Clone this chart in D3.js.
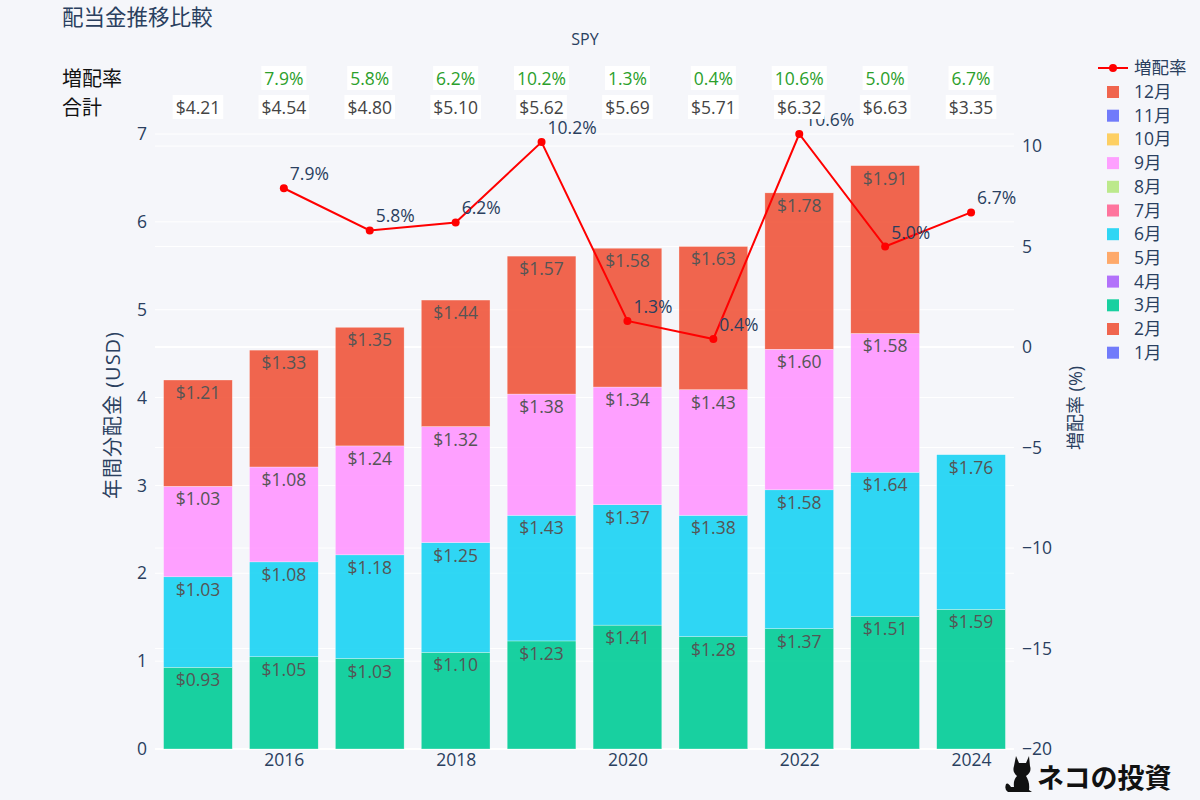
<!DOCTYPE html>
<html><head><meta charset="utf-8">
<script src="https://cdn.jsdelivr.net/npm/d3@7"></script>
<style>
html,body{margin:0;padding:0;background:#f5f6fa;}
svg{display:block;font-family:"Open Sans","Noto Sans CJK JP",sans-serif;}
</style></head>
<body><svg id="c" width="1200" height="800"></svg>
<script>
const years = [2015,2016,2017,2018,2019,2020,2021,2022,2023,2024];
const months = ["1月","2月","3月","4月","5月","6月","7月","8月","9月","10月","11月","12月"];
const monthColors = ["#636efa","#EF553B","#00cc96","#ab63fa","#FFA15A","#19d3f3","#FF6692","#B6E880","#FF97FF","#FECB52","#636efa","#EF553B"];
const mar = [0.93,1.05,1.03,1.10,1.23,1.41,1.28,1.37,1.51,1.59];
const jun = [1.03,1.08,1.18,1.25,1.43,1.37,1.38,1.58,1.64,1.76];
const sep = [1.03,1.08,1.24,1.32,1.38,1.34,1.43,1.60,1.58,0];
const dec = [1.21,1.33,1.35,1.44,1.57,1.58,1.63,1.78,1.91,0];
const totals = ["$4.21","$4.54","$4.80","$5.10","$5.62","$5.69","$5.71","$6.32","$6.63","$3.35"];
const growthYears = [2016,2017,2018,2019,2020,2021,2022,2023,2024];
const growth = [7.9,5.8,6.2,10.2,1.3,0.4,10.6,5.0,6.7];
const leftTicks = [0,1,2,3,4,5,6,7];
const rightTicks = [10,5,0,-5,-10,-15,-20];
const xTicks = [2016,2018,2020,2022,2024];

const svg = d3.select("#c");
const L=155,R=1014,T=134,B=749;
const font = "'Open Sans','Noto Sans CJK JP',sans-serif";
const txt = "#2a3f5f";
const FS = 17.5;
const x = d3.scaleLinear().domain([2014.5,2024.5]).range([L,R]);
const y = d3.scaleLinear().domain([0,7]).range([B,T]);
const y2 = d3.scaleLinear().domain([-20,10.6]).range([B,T]);
const step = x(2016)-x(2015), bw = step*0.8;

// gridlines
const g = svg.append("g");
g.selectAll(".gl").data(leftTicks).join("line")
 .attr("x1",L).attr("x2",R).attr("y1",d=>y(d)).attr("y2",d=>y(d))
 .attr("stroke","#fff").attr("stroke-width",d=>d===0?2:1);
g.selectAll(".gr").data(rightTicks).join("line")
 .attr("x1",L).attr("x2",R).attr("y1",d=>y2(d)).attr("y2",d=>y2(d))
 .attr("stroke","#fff").attr("stroke-width",d=>d===0?2:1);

// stacked bars
const rows = years.map((yr,i)=>({year:yr,"3月":mar[i],"6月":jun[i],"9月":sep[i],"12月":dec[i]}));
const keys = ["3月","6月","9月","12月"];
const stack = d3.stack().keys(keys)(rows);
stack.forEach(layer=>{
  const col = monthColors[months.indexOf(layer.key)];
  const lg = svg.append("g");
  layer.forEach(d=>{
    const v = d[1]-d[0];
    if(v<=0) return;
    lg.append("rect").attr("x",x(d.data.year)-bw/2).attr("width",bw)
      .attr("y",y(d[1])).attr("height",y(d[0])-y(d[1]))
      .attr("fill",col).attr("fill-opacity",0.9)
      .attr("stroke","#fff").attr("stroke-opacity",0.6).attr("stroke-width",0.5);
    lg.append("text").attr("x",x(d.data.year)).attr("y",y(d[1])+19)
      .attr("text-anchor","middle").attr("font-size",FS).attr("fill","#555")
      .attr("font-family",font).text("$"+v.toFixed(2));
  });
});

// growth line
const line = d3.line().x((d,i)=>x(growthYears[i])).y(d=>y2(d));
svg.append("path").datum(growth).attr("d",line).attr("fill","none")
 .attr("stroke","#ff0000").attr("stroke-width",2);
svg.selectAll(".pt").data(growth).join("circle")
 .attr("cx",(d,i)=>x(growthYears[i])).attr("cy",d=>y2(d)).attr("r",4).attr("fill","#ff0000");
svg.selectAll(".pl").data(growth).join("text")
 .attr("x",(d,i)=>x(growthYears[i])+6).attr("y",d=>y2(d)-8)
 .attr("font-size",FS).attr("fill",txt).attr("font-family",font)
 .text(d=>d.toFixed(1)+"%");

// axes
const ax = d3.axisLeft(y).tickValues(leftTicks).tickSize(0).tickPadding(8).tickFormat(d3.format("d"));
const ga = svg.append("g").attr("transform",`translate(${L},0)`).call(ax);
const ax2 = d3.axisRight(y2).tickValues(rightTicks).tickSize(0).tickPadding(8).tickFormat(d=>d<0?"\u2212"+Math.abs(d):d);
const gb = svg.append("g").attr("transform",`translate(${R},0)`).call(ax2);
const ax3 = d3.axisBottom(x).tickValues(xTicks).tickSize(0).tickPadding(5).tickFormat(d3.format("d"));
const gc = svg.append("g").attr("transform",`translate(0,${B})`).call(ax3);
[ga,gb,gc].forEach(a=>{a.select(".domain").remove();
  a.selectAll("text").attr("font-size",FS).attr("fill",txt).attr("font-family",font);});

svg.append("text").attr("transform","translate(120,415) rotate(-90)").attr("text-anchor","middle")
 .attr("font-size",20).attr("letter-spacing",1).attr("fill",txt).attr("font-family",font).text("年間分配金 (USD)");
svg.append("text").attr("transform","translate(1082,408) rotate(-90)").attr("text-anchor","middle")
 .attr("font-size",18).attr("fill",txt).attr("font-family",font).text("増配率 (%)");

// title
svg.append("text").attr("x",62).attr("y",25).attr("font-size",21.5).attr("fill",txt)
 .attr("font-family",font).text("配当金推移比較");
svg.append("text").attr("x",585).attr("y",45).attr("text-anchor","middle").attr("font-size",16).attr("fill",txt)
 .attr("font-family",font).text("SPY");

// table
svg.append("text").attr("x",62).attr("y",86).attr("font-size",20).attr("fill","#111").attr("font-family",font).text("増配率");
svg.append("text").attr("x",62).attr("y",115).attr("font-size",20).attr("fill","#111").attr("font-family",font).text("合計");
function boxText(xc,yc,s,color){
  const bg = svg.append("g");
  const r = bg.append("rect").attr("fill","#fff");
  const t = bg.append("text").attr("x",xc).attr("y",yc).attr("text-anchor","middle")
   .attr("font-size",FS).attr("fill",color).attr("font-family",font).text(s);
  const bb = t.node().getBBox();
  r.attr("x",bb.x-3).attr("y",bb.y).attr("width",bb.width+6).attr("height",bb.height);
}
growth.forEach((d,i)=>boxText(x(growthYears[i]),85,d.toFixed(1)+"%","#2ca02c"));
totals.forEach((d,i)=>boxText(x(years[i]),114,d,"#444"));

// legend
const lgd = svg.append("g").attr("font-family",font);
lgd.append("line").attr("x1",1098).attr("x2",1128).attr("y1",68).attr("y2",68).attr("stroke","#ff0000").attr("stroke-width",2);
lgd.append("circle").attr("cx",1113).attr("cy",68).attr("r",4).attr("fill","#ff0000");
lgd.append("text").attr("x",1134).attr("y",74).attr("font-size",FS).attr("fill",txt).text("増配率");
months.slice().reverse().forEach((m,i)=>{
  const yy = 92+i*23.7;
  const col = monthColors[months.indexOf(m)];
  lgd.append("rect").attr("x",1107).attr("y",yy-6).attr("width",12).attr("height",12).attr("fill",col).attr("fill-opacity",0.9);
  lgd.append("text").attr("x",1134).attr("y",yy+6).attr("font-size",FS).attr("fill",txt).text(m);
});

// logo
const cat = svg.append("g").attr("transform","translate(1002,754)");
cat.append("path").attr("fill","#111").attr("d",
 "M14,2 L17,9 L24,9 L27,2 L28,12 Q30,18 24,22 Q28,28 27,36 L30,38 L6,38 Q2,36 4,30 Q6,28 9,33 L12,33 Q11,26 15,22 Q10,18 12,12 Z");
svg.append("text").attr("x",1037).attr("y",788).attr("font-size",27).attr("font-weight","bold")
 .attr("fill","#111").attr("font-family","'Noto Sans CJK JP',sans-serif").text("ネコの投資");
</script></body></html>
